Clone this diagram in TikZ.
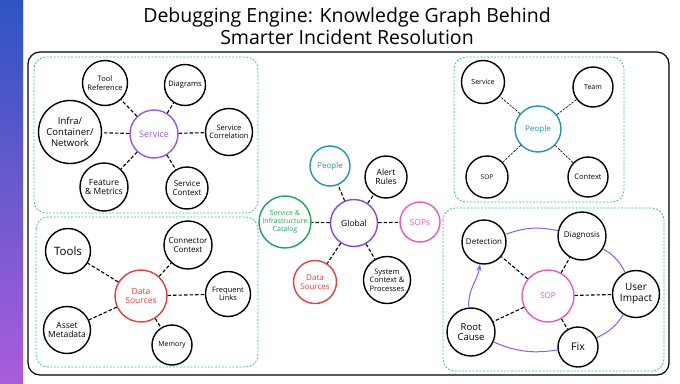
\documentclass[tikz,border=0pt]{standalone}
\usepackage{fontspec}
\setmainfont{Open Sans}
\usetikzlibrary{arrows.meta}
\usepackage{xcolor}
\definecolor{svcpurple}{HTML}{9A55E0}
\definecolor{globpurple}{HTML}{8A46D6}
\definecolor{dsred}{HTML}{E2403C}
\definecolor{pplteal}{HTML}{2593B5}
\definecolor{catgreen}{HTML}{1FA35A}
\definecolor{soppink}{HTML}{E25CC4}
\definecolor{groupgreen}{HTML}{3CBF90}
\definecolor{loopviolet}{HTML}{8E5BEA}
\definecolor{bartop}{HTML}{2D55C2}
\definecolor{barbottom}{HTML}{A95DDA}

\begin{document}
\begin{tikzpicture}[
        x=1pt, y=-1pt,
        txt/.style={
            font=\fontsize{#1}{1.12\dimexpr#1pt\relax}\selectfont
        },
        topic/.style={
            circle,
            draw=black,
            fill=white,
            line width=1.4pt,
            align=center,
            inner sep=0pt,
            minimum size=#1
        },
        hub/.style={
            circle,
            fill=white,
            line width=1.4pt,
            align=center,
            inner sep=0pt,
            minimum size=#1
        },
        group/.style={
            draw=groupgreen,
            dash pattern=on 2pt off 1.5pt,
            line width=0.8pt,
            rounded corners=12pt
        },
        link/.style={
            dash pattern=on 3.5pt off 2pt,
            line width=1.1pt
        },
        thinlink/.style={
            dash pattern=on 2.5pt off 1.2pt,
            line width=0.6pt
        },
        loop/.style={
            draw=loopviolet,
            line width=1pt
        }
    ]
        \useasboundingbox (0,0) rectangle (680,383);
        \shade[top color=bartop, bottom color=barbottom] (0,0) rectangle (23,383);

        \node (title) [txt=19.5, align=center] at (347,26) {Debugging Engine: Knowledge Graph Behind\\Smarter Incident Resolution};

        \draw[line width=1.2pt, rounded corners=12pt] (28,52) rectangle (669,375);
        \draw[group] (34,57) rectangle (258,213);
        \draw[group] (36,217) rectangle (258,367);
        \draw[group] (454,57) rectangle (624,202);
        \draw[group] (443,208) rectangle (664,371);

        \node (svc) [hub=48, draw=svcpurple, text=svcpurple, txt=9] at (154,134) {Service};
        \node (toolref) [topic=45, txt=7.5] at (105,83) {Tool\\Reference};
        \node (diagrams) [topic=41, txt=7.5] at (185,85) {Diagrams};
        \node (infra) [topic=63, txt=9.5] at (70,132) {Infra/\\Container/\\Network};
        \node (svccorr) [topic=47, txt=7.5] at (229,132) {Service\\Correlation};
        \node (feature) [topic=48, txt=8.5] at (104,187) {Feature\\\& Metrics};
        \node (svcctx) [topic=42, txt=8] at (187,188) {Service\\Context};

        \draw[link] (svc) -- (toolref);
        \draw[link] (svc) -- (diagrams);
        \draw[link] (svc) -- (infra);
        \draw[link] (svc) -- (svccorr);
        \draw[link] (svc) -- (feature);
        \draw[link] (svc) -- (svcctx);

        \node (datasrc) [hub=52, draw=dsred, text=dsred, txt=8.5] at (141,296) {Data\\Sources};
        \node (tools) [topic=45, txt=11.5] at (68,251) {Tools};
        \node (connctx) [topic=48, txt=8] at (188,245) {Connector\\Context};
        \node (freqlinks) [topic=45, txt=7.5] at (228,294) {Frequent\\Links};
        \node (assetmeta) [topic=47, txt=8.5] at (67,330) {Asset\\Metadata};
        \node (memory) [topic=40, txt=7] at (172,345) {Memory};

        \draw[link] (datasrc) -- (tools);
        \draw[link] (datasrc) -- (connctx);
        \draw[link] (datasrc) -- (freqlinks);
        \draw[link] (datasrc) -- (assetmeta);
        \draw[link] (datasrc) -- (memory);

        \node (global) [hub=47, draw=globpurple, txt=8.5] at (354,223) {Global};
        \node (gpeople) [hub=40, draw=pplteal, text=pplteal, txt=8] at (330,166) {People};
        \node (alerts) [topic=42, txt=8.5] at (386,177) {Alert\\Rules};
        \node (catalog) [hub=52, draw=catgreen, text=catgreen, txt=7] at (285,222) {Service \&\\Infrastructure\\Catalog};
        \node (sops) [hub=40, draw=soppink, text=soppink, txt=8.5] at (420,222) {SOPs};
        \node (gdata) [hub=43, draw=dsred, text=dsred, txt=8] at (315,282) {Data\\Sources};
        \node (sysctx) [topic=47, txt=7.5] at (387,280) {System\\Context \&\\Processes};

        \draw[link] (global) -- (gpeople);
        \draw[link] (global) -- (alerts);
        \draw[link] (global) -- (catalog);
        \draw[link] (global) -- (sops);
        \draw[link] (global) -- (gdata);
        \draw[link] (global) -- (sysctx);

        \node (people) [hub=46, draw=pplteal, text=pplteal, txt=8] at (538,129) {People};
        \node (pservice) [topic=43, txt=7] at (483,82) {Service};
        \node (team) [topic=40, txt=7] at (593,87) {Team};
        \node (psop) [topic=42, txt=6.5] at (487,177) {SOP};
        \node (pcontext) [topic=40, txt=7.5] at (588,177) {Context};

        \draw[thinlink] (people) -- (pservice);
        \draw[thinlink] (people) -- (team);
        \draw[thinlink] (people) -- (psop);
        \draw[thinlink] (people) -- (pcontext);

        \node (sop) [hub=52, draw=soppink, text=soppink, txt=8] at (548,296) {SOP};
        \node (detection) [topic=44, txt=8] at (484,242) {Detection};
        \node (diagnosis) [topic=48, txt=8] at (582,236) {Diagnosis};
        \node (impact) [topic=47, txt=10] at (636,294) {User\\Impact};
        \node (rootcause) [topic=48, txt=9.5] at (471,332) {Root\\Cause};
        \node (fix) [topic=40, txt=10.5] at (578,347) {Fix};

        \draw[link] (sop) -- (detection);
        \draw[link] (sop) -- (diagnosis);
        \draw[link] (sop) -- (impact);
        \draw[link] (sop) -- (rootcause);
        \draw[link] (sop) -- (fix);

        \draw[loop] (detection) to[bend left=16] (diagnosis);
        \draw[loop] (diagnosis) to[bend left=16] (impact);
        \draw[loop] (impact) to[bend left=16] (fix);
        \draw[loop] (fix) to[bend left=16] (rootcause);
        \draw[loop, -{Stealth[scale=0.9]}] (rootcause) to[out=95, in=-100] (detection);
    \end{tikzpicture}
\end{document}
